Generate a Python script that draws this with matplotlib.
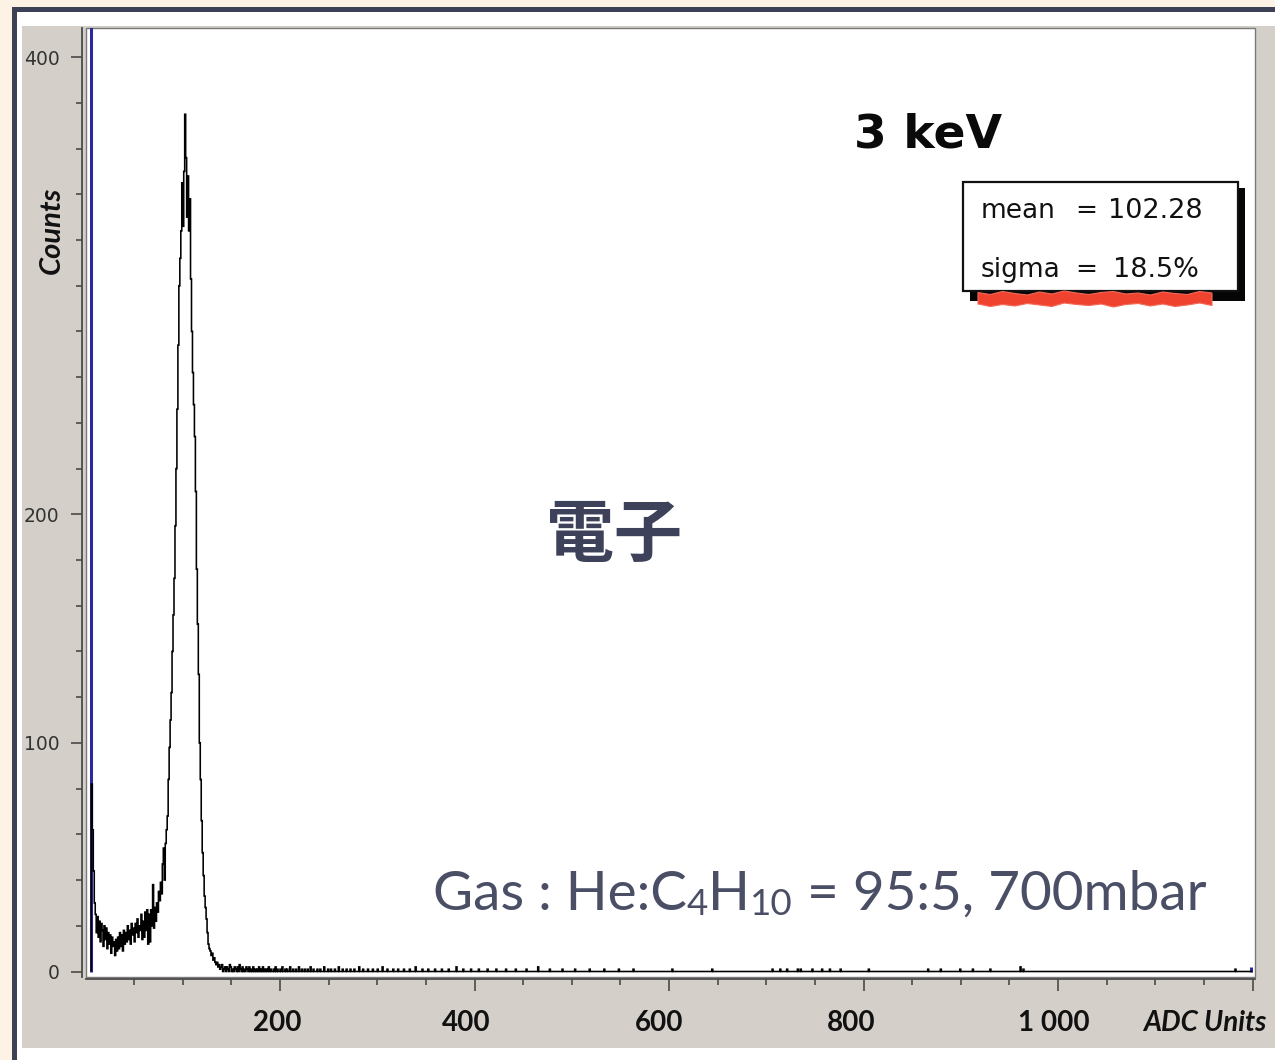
import numpy as np
import matplotlib
matplotlib.use("Agg")
import matplotlib.pyplot as plt
from matplotlib.patches import Rectangle, Polygon
from matplotlib.transforms import Affine2D, ScaledTranslation
from matplotlib.ticker import FixedLocator

W, H, DPI = 1275, 1060, 100

# ---------------- data ----------------
# counts in 1-ADC-unit bins, starting at ADC 6
core_start = 6
core_counts = [
    82, 62, 44, 30,                                  # 6-9
    25, 17, 24, 15, 22, 13, 21, 18, 11, 20,          # 10-19
    14, 19, 10, 17, 12, 16, 8, 15, 11, 13,           # 20-29
    7, 14, 9, 15, 10, 17, 11, 16, 9, 18,             # 30-39
    12, 17, 13, 20, 14, 18, 12, 21, 16, 19,          # 40-49
    13, 21, 17, 23, 15, 20, 18, 25, 14, 22,          # 50-59
    15, 26, 18, 27, 12, 25, 13, 27, 20, 38,          # 60-69
    19, 28, 22, 30, 26, 35, 31, 39, 34, 47,          # 70-79
    54, 40, 56, 62, 68, 84,                          # 80-85
    98, 110, 122, 140, 156, 172, 195, 220, 246, 274,  # 86-95
    300, 312, 324, 345, 326, 350, 375, 356, 330, 348,  # 96-105
    324, 338, 303, 280, 262, 248, 234, 210, 176, 152,  # 106-115
    130, 100, 84, 66, 52, 42, 33, 28, 23, 17,        # 116-125
    12, 10, 9, 7, 8, 5, 6, 4, 3, 4,                  # 126-135
    2, 3, 1,                                         # 136-138
]
# sparse high-ADC tail (bin position, counts)
tail_x = [139, 140, 142, 143, 145, 146, 148, 149, 151, 153,
          154, 156, 158, 159, 161, 163, 165, 166, 168, 170,
          172, 174, 176, 178, 180, 182, 184, 186, 188, 190,
          193, 195, 197, 200, 202, 205, 207, 210, 213, 216,
          219, 222, 225, 228, 231, 234, 238, 241, 245, 249,
          252, 256, 260, 264, 268, 272, 276, 281, 285, 290,
          295, 300, 305, 310, 316, 321, 327, 333, 339, 346,
          352, 359, 366, 373, 381, 388, 396, 404, 413, 422,
          432, 442, 453, 465, 477, 490, 503, 518, 533, 548,
          563, 603, 644, 706, 714, 721, 732, 735, 747, 757,
          765, 776, 805, 866, 879, 899, 912, 930, 961, 964,
          1182]
tail_n = [2, 3, 1, 2, 2, 1, 3, 2, 1, 2,
          1, 2, 3, 1, 2, 1, 2, 1, 2, 1,
          2, 1, 1, 2, 1, 2, 1, 1, 2, 1,
          1, 2, 1, 1, 2, 1, 1, 2, 1, 1,
          2, 1, 1, 1, 2, 1, 1, 1, 2, 1,
          1, 1, 2, 1, 1, 1, 1, 2, 1, 1,
          1, 1, 2, 1, 1, 1, 1, 1, 2, 1,
          1, 1, 1, 1, 2, 1, 1, 1, 1, 1,
          1, 1, 1, 2, 1, 1, 1, 1, 1, 1,
          1, 1, 1, 1, 1, 1, 1, 1, 1, 1,
          1, 1, 1, 1, 1, 1, 1, 1, 2, 1,
          1]
hist_end = 1200

# second (blue) histogram: underflow column and one high-ADC entry
blue_x = [5.7, 1198]
blue_n = [900, 2]

xtick_major = [200, 400, 600, 800, 1000, 1200]
xtick_labels = ["200", "400", "600", "800", "1 000", ""]
ytick_major = [0, 100, 200, 400]
ytick_labels = ["0", "100", "200", "400"]

energy_label = "3 keV"
particle_label = "電子"
stats_names = ["mean", "sigma"]
stats_values = ["102.28", "18.5%"]

# ---------------- build histogram ----------------
edges = np.arange(core_start, hist_end + 1, 1.0)
counts = np.zeros(len(edges) - 1)
counts[:len(core_counts)] = core_counts
for xv, nv in zip(tail_x, tail_n):
    counts[xv - core_start] = nv

# ---------------- figure ----------------
fig = plt.figure(figsize=(W / DPI, H / DPI), dpi=DPI, facecolor="#FDF3E4")
# pixel coordinates measured from the top-left corner
px = Affine2D().scale(1.0 / W, -1.0 / H).translate(0, 1) + fig.transFigure


def prect(x0, y0, x1, y1, **kw):
    r = Rectangle((x0, y0), x1 - x0, y1 - y0, transform=px, **kw)
    fig.patches.append(r)
    return r


# slide frame and panel
prect(12, 7, 1400, 1200, facecolor="#3D4156", edgecolor="none", zorder=-3)
prect(17, 12, 1400, 1200, facecolor="white", edgecolor="none", zorder=-2)
prect(22, 26, 1400, 1048, facecolor="#D4D0C9", edgecolor="none", zorder=-1)

# plot area
x0_px, x_scale = 85.5, 0.9725
y0_px, y_scale = 971.5, 2.286
xlim = (0, 1203)
ylim = (-2.4, 412.7)
left_px = x0_px + xlim[0] * x_scale
right_px = x0_px + xlim[1] * x_scale
top_px = y0_px - ylim[1] * y_scale
bot_px = y0_px - ylim[0] * y_scale
ax = fig.add_axes([left_px / W, 1 - bot_px / H,
                   (right_px - left_px) / W, (bot_px - top_px) / H])
ax.set_facecolor("white")
ax.set_xlim(*xlim)
ax.set_ylim(*ylim)

ax.vlines(blue_x, 0, blue_n, colors="#2B2A9C", linewidth=2.2, zorder=2)
ax.stairs(counts, edges, color="black", linewidth=1.15, zorder=3)

# axes frame
for s in ("top", "right"):
    ax.spines[s].set_visible(False)
ax.add_patch(Rectangle((0, 0), 1, 1, transform=ax.transAxes, fill=False,
                       edgecolor="#7A7A7A", linewidth=1.0, zorder=1,
                       clip_on=False))
ax.spines["left"].set_position(("outward", 2.2))
ax.spines["bottom"].set_position(("outward", 1.5))
for s in ("left", "bottom"):
    ax.spines[s].set_color("#4A4A4A")
    ax.spines[s].set_linewidth(1.3)

ax.xaxis.set_major_locator(FixedLocator(xtick_major))
ax.set_xticklabels(xtick_labels)
ax.xaxis.set_minor_locator(FixedLocator(
    [v for v in range(50, 1200, 50) if v not in xtick_major]))
ax.yaxis.set_major_locator(FixedLocator(ytick_major))
ax.set_yticklabels(ytick_labels)
ax.yaxis.set_minor_locator(FixedLocator(
    [v for v in range(20, 401, 20) if v not in ytick_major]))

ax.tick_params(axis="x", which="major", direction="out", length=8.6,
               width=1.2, color="#4A4A4A", pad=13.5)
ax.tick_params(axis="x", which="minor", direction="out", length=4.3,
               width=1.2, color="#4A4A4A")
ax.tick_params(axis="y", which="major", direction="out", length=8.0,
               width=1.2, color="#4A4A4A", pad=8.6)
ax.tick_params(axis="y", which="minor", direction="out", length=4.3,
               width=1.2, color="#4A4A4A")

label_shift_px = [-3, -8, -10, -12, -4, 0]
for lab, dx in zip(ax.get_xticklabels(), label_shift_px):
    lab.set_fontfamily("Lato")
    lab.set_fontweight("bold")
    lab.set_fontsize(20)
    lab.set_color("#111111")
    lab.set_transform(lab.get_transform() +
                      ScaledTranslation(dx / DPI, 0, fig.dpi_scale_trans))
for lab in ax.get_yticklabels():
    lab.set_fontfamily("DejaVu Sans")
    lab.set_fontsize(13.5)
    lab.set_color("#333333")

# axis titles
fig.text(52 / W, 1 - 230 / H, "Counts", rotation=90, ha="center",
         va="center", fontfamily="Lato", fontweight="bold",
         fontstyle="italic", fontsize=21, color="#111111")
fig.text(1266 / W, 1 - 1031 / H, "ADC Units", ha="right", va="baseline",
         fontfamily="Lato", fontweight="bold", fontstyle="italic",
         fontsize=20, color="#111111")

# energy label
fig.text(928 / W, 1 - 147 / H, energy_label, ha="center", va="baseline",
         fontfamily="DejaVu Sans", fontweight="bold", fontsize=34,
         color="#0A0A0A")

# statistics box with drop shadow and scribbled red underline
prect(970, 188, 1245, 301, facecolor="#050505", edgecolor="none", zorder=4)
prect(963, 182, 1238, 291, facecolor="white", edgecolor="#111111",
      linewidth=1.6, zorder=5)
top_off = [0.5, 2.5, -0.5, 1.5, 3.0, 0.0, 2.0, -1.0, 1.0, 2.5,
           0.5, -0.5, 2.0, 1.0, 3.0, 0.0, 1.5, 2.5, -0.5, 1.0]
bot_off = [1.0, -1.5, 0.5, 2.0, -0.5, 1.5, -1.0, 0.0, 2.5, -0.5,
           1.0, 0.0, -1.5, 2.0, 0.5, -1.0, 1.5, 0.0, 2.0, -0.5]
zig_x = np.linspace(978, 1212, len(top_off))
top_edge = [(xv, 292.0 + d) for xv, d in zip(zig_x, top_off)]
bot_edge = [(xv, 304.5 + d) for xv, d in zip(zig_x[::-1], bot_off)]
red = Polygon(top_edge + bot_edge, closed=True, transform=px,
              facecolor="#F0432F", edgecolor="#F26A58", linewidth=0.8,
              zorder=6)
fig.patches.append(red)
for name, val, base, vx in zip(stats_names, stats_values, [218, 277],
                               [1108, 1113]):
    fig.text(981 / W, 1 - base / H, name, ha="left", va="baseline",
             fontfamily="DejaVu Sans", fontsize=19, color="#111111",
             zorder=7)
    fig.text(1086 / W, 1 - base / H, "=", ha="center", va="baseline",
             fontfamily="DejaVu Sans", fontsize=19, color="#111111",
             zorder=7)
    fig.text(vx / W, 1 - base / H, val, ha="left", va="baseline",
             fontfamily="DejaVu Sans", fontsize=19.5, color="#111111",
             zorder=7)

# particle label
fig.text(614 / W, 1 - 536 / H, particle_label, ha="center", va="center",
         fontfamily=["Noto Sans CJK JP", "DejaVu Sans"], fontweight="bold",
         fontsize=49, color="#3D4159")

# gas composition, drawn piece by piece for the subscripts
renderer = fig.canvas.get_renderer()
gas_parts = [("Gas : He:C", 39.5, 0), ("4", 26.5, 5), ("H", 39.5, 0),
             ("10", 26.5, 5), (" = 95:5, 700mbar", 39.5, 0)]
cur_x = 433
for txt, size, drop in gas_parts:
    t = fig.text(cur_x / W, 1 - (910 + drop) / H, txt, ha="left",
                 va="baseline", fontfamily="Lato", fontweight="normal",
                 fontsize=size, color="#4A4F66")
    bb = t.get_window_extent(renderer)
    cur_x += bb.width

fig.savefig("out.png", dpi=DPI, facecolor=fig.get_facecolor())
